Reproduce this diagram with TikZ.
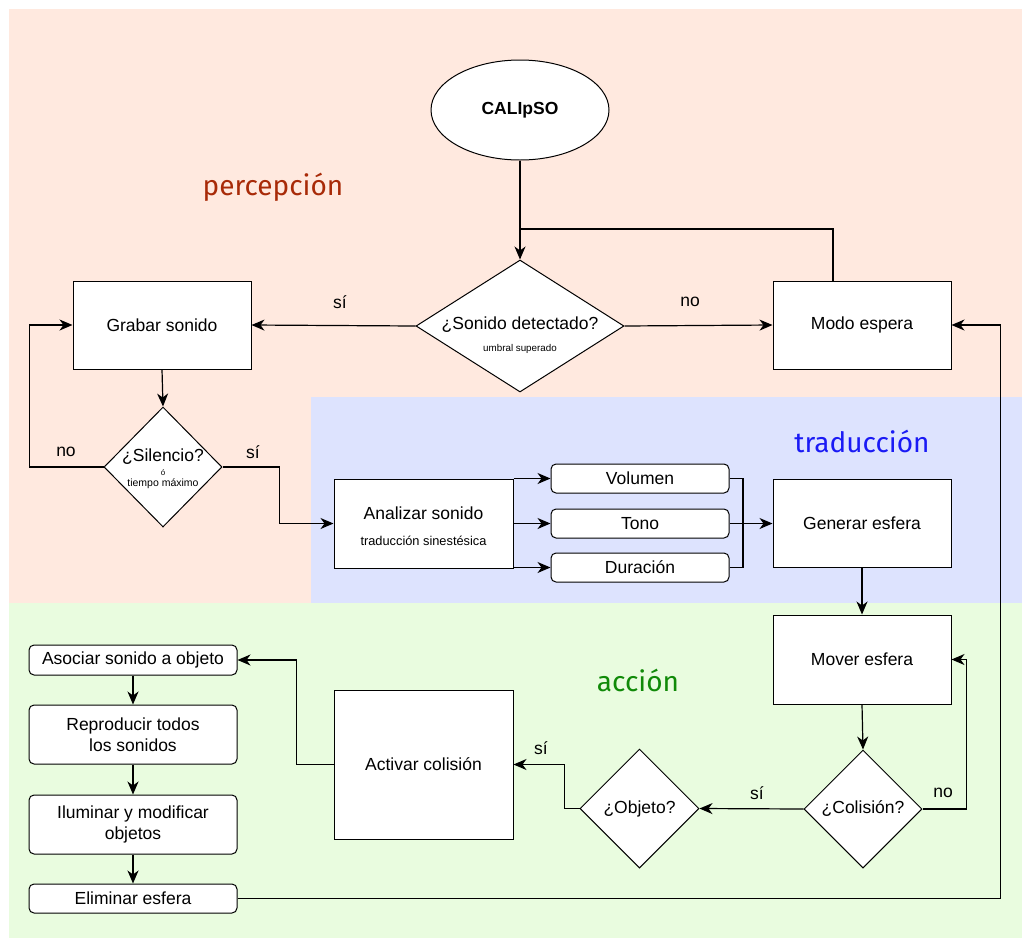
\documentclass[tikz,border=0pt]{standalone}
\usepackage{fontspec}
\setmainfont{Liberation Sans}
\newfontfamily\secfont{Fira Sans}
\usetikzlibrary{shapes.geometric,arrows.meta,calc}
\definecolor{peach}{HTML}{FFE9DF}
\definecolor{lblue}{HTML}{DDE3FE}
\definecolor{lgreen}{HTML}{E9FCDF}
\definecolor{cperc}{HTML}{A82A08}
\definecolor{ctrad}{HTML}{1A1AF5}
\definecolor{cacc}{HTML}{108A08}
\tikzset{
  base/.style={font=\fontsize{17.5}{21}\selectfont, inner sep=0pt},
  box/.style={base, draw, fill=white, line width=1pt, minimum width=178pt, minimum height=88pt},
  rbox/.style={base, draw, fill=white, line width=1pt, rounded corners=5pt, align=center},
  dia/.style={draw, fill=white, diamond, line width=1pt, inner sep=0pt},
  txt/.style={base, align=center},
  small/.style={inner sep=0pt, font=\fontsize{9.8}{11}\selectfont},
  lab/.style={base},
  sec/.style={inner sep=0pt, font=\secfont\fontsize{28}{32}\selectfont},
  conn/.style={line width=1.2pt},
  arr/.style={conn, -{Stealth[length=13pt, width=11pt, inset=4pt]}},
}
\begin{document}
\begin{tikzpicture}[x=1pt,y=-1pt]
\useasboundingbox (0,0) rectangle (1022,940);
% backgrounds
\fill[peach] (9,9) rectangle (1022,603);
\fill[lblue] (311,397) rectangle (1022,603);
\fill[lgreen] (9,603) rectangle (1022,938);
% section labels
\node[sec, text=cperc] (sp) at (273,187) {percepción};
\node[sec, text=ctrad] (st) at (862,441) {traducción};
\node[sec, text=cacc] (sa) at (638,680) {acción};
% nodes
\node[base, draw, fill=white, ellipse, line width=1pt, minimum width=178pt, minimum height=100pt, font=\bfseries\fontsize{17.5}{21}\selectfont] (cal) at (520,110) {CALIpSO};
\node[dia, minimum width=208pt, minimum height=132pt] (son) at (520,326) {};
\node[txt] (sont) at (520,325) {¿Sonido detectado?};
\node[small] (sons) at (520,349) {umbral superado};
\node[box] (grab) at (162,325) {Grabar sonido};
\node[box] (modo) at (862,325) {Modo espera};
\node[dia, minimum width=118pt, minimum height=120pt] (sil) at (163,467) {};
\node[txt] (silt) at (163,457) {¿Silencio?};
\node[inner sep=0pt, font=\fontsize{8}{9}\selectfont] (silo) at (163,473) {ó};
\node[inner sep=0pt, font=\fontsize{10.5}{12}\selectfont] (silm) at (163,484) {tiempo máximo};
\node[box, minimum width=179pt, minimum height=89pt] (an) at (423.5,523.5) {};
\node[txt] (ant) at (423.5,513) {Analizar sonido};
\node[inner sep=0pt, font=\fontsize{12.8}{15}\selectfont] (ans) at (423.5,541) {traducción sinestésica};
\node[rbox, minimum width=178pt, minimum height=29pt] (vol) at (640,478.5) {Volumen};
\node[rbox, minimum width=178pt, minimum height=29pt] (ton) at (640,523.5) {Tono};
\node[rbox, minimum width=178pt, minimum height=29pt] (dur) at (640,567.5) {Duración};
\node[box] (gen) at (862,523.5) {Generar esfera};
\node[box, minimum height=89pt] (mov) at (862,659.5) {Mover esfera};
\node[dia, minimum width=118pt, minimum height=118pt] (col) at (863,809) {};
\node[txt] (colt) at (863,809) {¿Colisión?};
\node[dia, minimum width=119pt, minimum height=119pt] (obj) at (639.5,808.5) {};
\node[txt] (objt) at (639.5,808.5) {¿Objeto?};
\node[box, minimum width=179pt, minimum height=149pt] (act) at (423.5,764.5) {Activar colisión};
\node[rbox, minimum width=208pt, minimum height=30pt] (aso) at (133,660) {Asociar sonido a objeto};
\node[rbox, minimum width=208pt, minimum height=59pt] (rep) at (133,734.5) {Reproducir todos\\los sonidos};
\node[rbox, minimum width=208pt, minimum height=59pt] (ilu) at (133,824.5) {Iluminar y modificar\\objetos};
\node[rbox, minimum width=208pt, minimum height=29pt] (eli) at (133,898.5) {Eliminar esfera};
% connectors
\coordinate (j) at (520,229);
\coordinate (mg) at (743,523.5);
\draw[arr] (cal.south) -- (son.north);
\draw[conn] ($(modo.north)+(-29,0)$) |- (j);
\draw[arr] (son.west) -- (grab.east);
\draw[arr] (son.east) -- (modo.west);
\draw[arr] (grab.south) -- (sil.north);
\draw[arr] (sil.west) -- ++(-74,0) |- (grab.west);
\draw[arr] (sil.east) -- ++(57,0) |- (an.west);
\draw[arr] (an.east |- vol.west) -- (vol.west);
\draw[arr] (an.east) -- (ton.west);
\draw[arr] (an.east |- dur.west) -- (dur.west);
\draw[conn] (vol.east) -| (mg);
\draw[conn] (dur.east) -| (mg);
\draw[arr] (ton.east) -- (gen.west);
\draw[arr] (gen.south) -- (mov.north);
\draw[arr] (mov.south) -- (col.north);
\draw[arr] (col.east) -- ++(44,0) |- (mov.east);
\draw[arr] (col.west) -- (obj.east);
\draw[arr] (obj.west) -- ++(-15,0) |- (act.east);
\draw[arr] (act.west) -- ++(-37,0) |- (aso.east);
\draw[arr] (aso.south) -- (rep.north);
\draw[arr] (rep.south) -- (ilu.north);
\draw[arr] (ilu.south) -- (eli.north);
\draw[arr] (eli.east) -- ++(763,0) |- (modo.east);
% connector labels
\node[lab] (l1) at (340,302) {sí};
\node[lab] (l2) at (690,302) {no};
\node[lab] (l3) at (66,452) {no};
\node[lab] (l4) at (253,452) {sí};
\node[lab] (l5) at (943,793) {no};
\node[lab] (l6) at (757,793) {sí};
\node[lab] (l7) at (541,748) {sí};
\end{tikzpicture}
\end{document}
